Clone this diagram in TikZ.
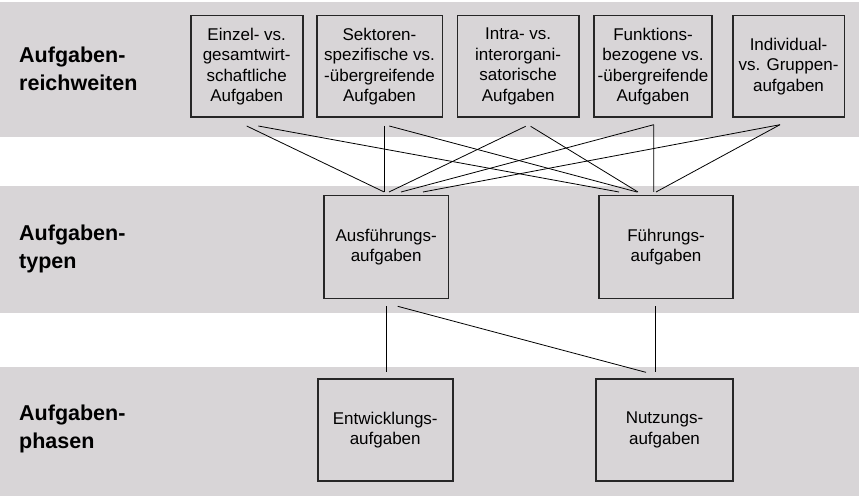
\documentclass[tikz,border=0pt]{standalone}
\usepackage{fontspec}
\setmainfont{Liberation Sans}
\usetikzlibrary{positioning}
\definecolor{bandgray}{RGB}{216,213,215}

\begin{document}
\begin{tikzpicture}[x=1pt, y=-1pt,
    box/.style={draw=black!85, line width=1.6pt, outer sep=0pt, inner sep=0pt, align=center, minimum height=101.6pt, font=\fontsize{17}{20.5}\selectfont},
    lbl/.style={anchor=west, align=left, inner sep=0pt, font=\fontsize{21.5}{27.5}\selectfont\bfseries},
    link/.style={line width=0.8pt, black}]
    \useasboundingbox (0,0) rectangle (868,500);
    \fill[bandgray] (0,2) rectangle (859,137);
    \fill[bandgray] (0,186.5) rectangle (859,313.3);
    \fill[bandgray] (0,366.7) rectangle (859,496);

    \node[lbl] (reich) at (19,69) {Aufgaben-\\reichweiten};
    \node[lbl] (typen) at (19,249) {Aufgaben-\\typen};
    \node[lbl] (phasen) at (19,429) {Aufgaben-\\phasen};

    \node[box, minimum width=112pt] (r1) at (246.7,66.5) {Einzel- vs.\\gesamtwirt-\\schaftliche\\Aufgaben};
    \node[box, minimum width=125.6pt, right = 14pt of r1] (r2) {Sektoren-\\spezifische vs.\\-übergreifende\\Aufgaben};
    \node[box, minimum width=121.7pt, right = 15pt of r2] (r3) {Intra- vs.\\interorgani-\\satorische\\Aufgaben};
    \node[box, minimum width=118pt, right = 15pt of r3] (r4) {Funktions-\\bezogene vs.\\-übergreifende\\Aufgaben};
    \node[box, minimum width=111.6pt, right = 20.7pt of r4] (r5) {Individual-\\vs. Gruppen-\\aufgaben};

    \node[box, minimum width=124.3pt, minimum height=102.6pt] (aus) at (386.2,247) {Ausführungs-\\aufgaben};
    \node[box, minimum width=134pt, minimum height=102.6pt] (fue) at (666,247) {Führungs-\\aufgaben};
    \node[box, minimum width=135pt, minimum height=101.7pt] (ent) at (385.2,429.9) {Entwicklungs-\\aufgaben};
    \node[box, minimum width=137pt, minimum height=101.7pt] (nut) at (664.5,429.9) {Nutzungs-\\aufgaben};

    \draw[link] ([yshift=-8.7pt]r1.south) -- ([xshift=-2pt,yshift=3.7pt]aus.north);
    \draw[link] ([xshift=11.6pt,yshift=-8.7pt]r1.south) -- ([xshift=-47pt,yshift=3.7pt]fue.north);
    \draw[link] ([xshift=4.8pt,yshift=-8.7pt]r2.south) -- ([xshift=-1.9pt,yshift=3.7pt]aus.north);
    \draw[link] ([xshift=9.8pt,yshift=-8.7pt]r2.south) -- ([xshift=-29pt,yshift=3.7pt]fue.north);
    \draw[link] ([xshift=7.5pt,yshift=-9pt]r3.south) -- ([xshift=2.8pt,yshift=3.7pt]aus.north);
    \draw[link] ([xshift=12.5pt,yshift=-9pt]r3.south) -- ([xshift=-28pt,yshift=3.7pt]fue.north);
    \draw[link] ([xshift=0.7pt,yshift=-7.4pt]r4.south) -- ([xshift=-12.3pt,yshift=3.7pt]fue.north);
    \draw[link] ([xshift=0.7pt,yshift=-7.4pt]r4.south) -- ([xshift=14.8pt,yshift=3.7pt]aus.north);
    \draw[link] ([xshift=-8.5pt,yshift=-7.4pt]r5.south) -- ([xshift=36.8pt,yshift=3.7pt]aus.north);
    \draw[link] ([xshift=-8.5pt,yshift=-7.4pt]r5.south) -- ([xshift=-10pt,yshift=3.7pt]fue.north);

    \draw[link] ([xshift=-0.2pt,yshift=-8pt]aus.south) -- ([xshift=0.8pt,yshift=6.7pt]ent.north);
    \draw[link] ([xshift=11.5pt,yshift=-8pt]aus.south) -- ([xshift=-18.5pt,yshift=6.7pt]nut.north);
    \draw[link] ([xshift=-10.3pt,yshift=-8pt]fue.south) -- ([xshift=-8.8pt,yshift=6.7pt]nut.north);
\end{tikzpicture}
\end{document}
